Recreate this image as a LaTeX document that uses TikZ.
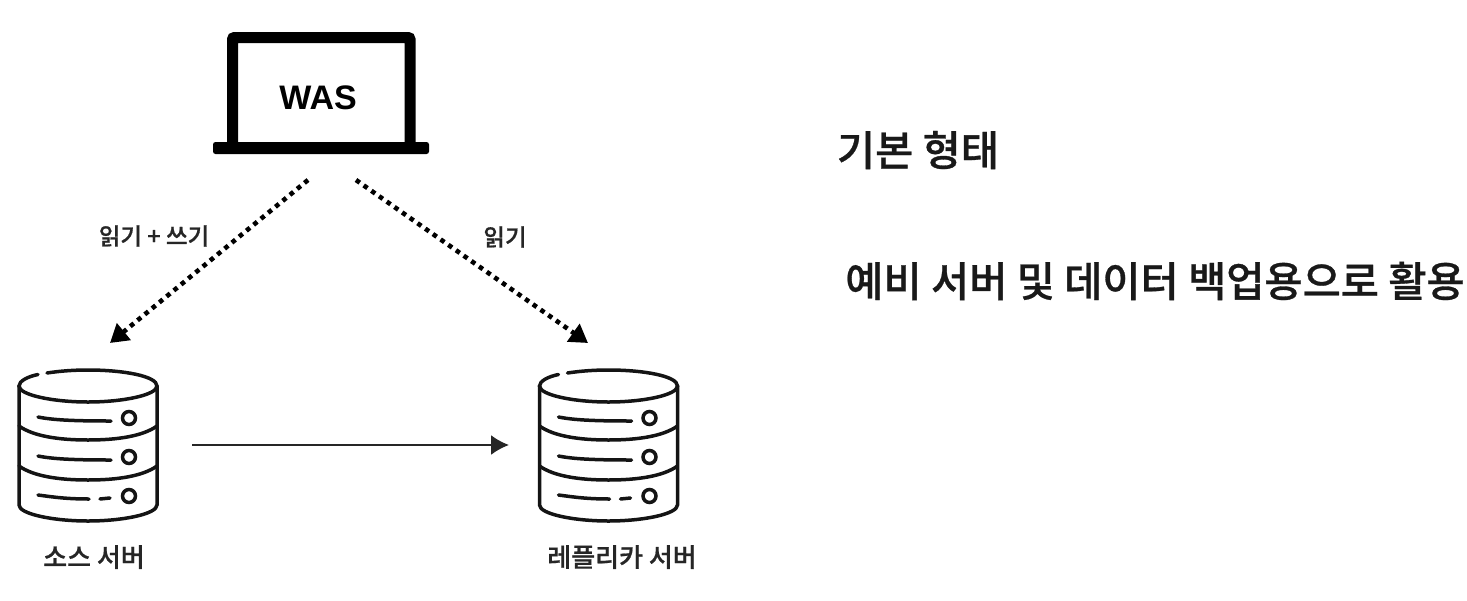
\documentclass[tikz,border=0pt]{standalone}
\usepackage{fontspec}
\setmainfont{Liberation Sans}
\newfontfamily\cjk[FakeBold=0.7]{Noto Sans CJK KR Medium}
\usetikzlibrary{arrows.meta}
\tikzset{
  dbline/.style={line width=3.5pt,line cap=round,color=black!92},
  lab/.style={font=\cjk\fontsize{26}{30}\selectfont,color=black!85,inner sep=0pt},
  readlab/.style={font=\cjk\fontsize{23.5}{28}\selectfont,color=black!85,inner sep=0pt},
  head/.style={font=\cjk\fontsize{41.5}{46}\selectfont,color=black!90,inner sep=0pt},
  readarrow/.style={line width=4.6pt,dash pattern=on 4.6pt off 4.8pt,-{Triangle[length=18pt,width=21pt]}}
}
\begin{document}
\begin{tikzpicture}[x=1pt,y=-1pt]
  \useasboundingbox (0,0) rectangle (1467,600);
  % laptop
  \draw[line width=11pt,rounded corners=2pt] (232.5,142) |- (410,37.5) -- (410,142);
  \fill[rounded corners=2.5pt] (213,142) rectangle (429,154);
  \node[font=\bfseries\fontsize{34}{36}\selectfont,inner sep=0pt] (was) at (318,98) {WAS};
  % servers
  \foreach \cx in {88,608.5}{
    \begin{scope}[shift={(\cx,0)}]
      \draw[dbline] (-50,374.5) .. controls (-60,376.5) and (-69,381) .. (-69,386)
        .. controls (-69,395) and (-35,402) .. (0,402)
        .. controls (35,402) and (69,395) .. (69,386)
        .. controls (69,376) and (35,370) .. (0,370)
        .. controls (-14,370) and (-28,371) .. (-41,373);
      \draw[dbline] (-69,386) -- (-69,505) .. controls (-69,514) and (-35,521) .. (0,521)
        .. controls (35,521) and (69,514) .. (69,505) -- (69,386);
      \foreach \y in {426,466}{
        \draw[dbline] (-69,\y) .. controls (-55,\y+10) and (-30,\y+14) .. (0,\y+14)
          .. controls (30,\y+14) and (55,\y+10) .. (69,\y);
      }
      \foreach \y in {418,457,496}{
        \draw[line width=3.5pt,color=black!92] (41,\y) circle (6.5);
      }
      \foreach \y in {417,456}{
        \draw[dbline] (-50,\y) .. controls (-35,\y+3) and (-15,\y+4) .. (23,\y+4);
      }
      \draw[dbline] (-50,495) .. controls (-35,497) and (-22,499) .. (1,499);
      \draw[dbline] (12,499) -- (22,498);
    \end{scope}
  }
  \node[lab] (srclab) at (94,557) {소스 서버};
  \node[lab] (replab) at (622,557) {레플리카 서버};
  % connectors
  \coordinate (wasl) at (308,180);
  \coordinate (wasr) at (356,180);
  \coordinate (srctop) at (110,343);
  \coordinate (reptop) at (588,343);
  \coordinate (srcr) at (192,445);
  \coordinate (repl) at (509,445);
  \draw[readarrow] (wasl)--(srctop);
  \draw[readarrow] (wasr)--(reptop);
  \draw[line width=2pt,color=black!85,-{Latex[length=18pt,width=20pt]}] (srcr)--(repl);
  \node[readlab] (rwlab) at (154,236) {읽기 + 쓰기};
  \node[readlab] (rlab) at (505,237) {읽기};
  % text
  \node[head] (title) at (918,150) {기본 형태};
  \node[head] (desc) at (1155,281) {예비 서버 및 데이터 백업용으로 활용};
\end{tikzpicture}
\end{document}
